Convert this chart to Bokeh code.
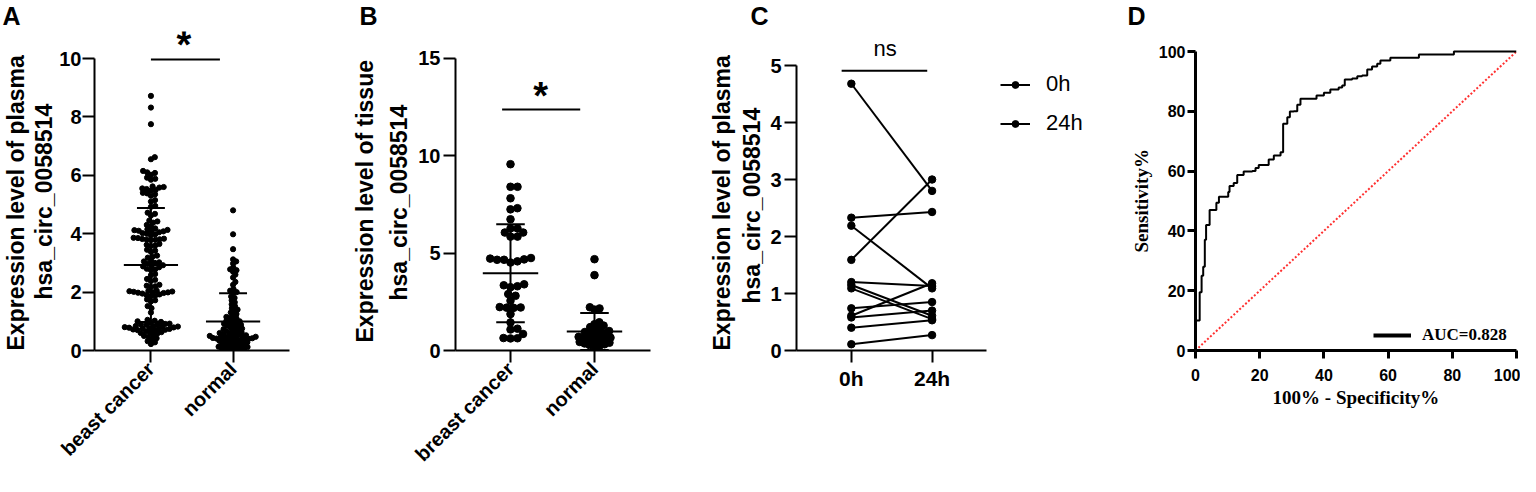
import numpy as np
from bokeh.plotting import figure
from bokeh.models import Range1d, FixedTicker, Legend, LegendItem, Title
from bokeh.layouts import row
from bokeh.embed import file_html
from bokeh.resources import INLINE
from bokeh.core.properties import value

# ---------------- data ----------------
plasma_groups = ["beast cancer", "normal"]
plasma_cancer = [
    8.72, 8.32, 7.75, 6.62, 6.55,
    6.15, 6.08, 6.02, 6.10, 5.88, 5.85, 5.92,
    5.62, 5.58, 5.55, 5.50, 5.48, 5.53, 5.60, 5.40, 5.35, 5.30, 5.38,
    5.15, 5.10, 4.92, 4.95, 4.68, 4.62, 4.72, 4.42, 4.38, 4.45, 4.30, 4.25,
    4.12, 4.10, 4.08, 4.15, 4.10, 4.05, 4.13, 4.18, 4.00, 3.98, 4.02, 3.95,
    3.82, 3.80, 3.85, 3.78, 3.83, 3.79, 3.86, 3.81, 3.62, 3.58, 3.65, 3.60,
    3.42, 3.38, 3.45, 3.22, 3.18, 3.25, 3.02, 3.05, 2.98, 3.00, 3.08,
    2.92, 2.88, 2.85, 2.90, 2.78, 2.75, 2.80, 2.62, 2.58, 2.42, 2.38, 2.45,
    2.22, 2.18, 2.25, 2.20, 2.02, 1.98, 2.00, 2.05, 1.95, 2.03, 1.97, 2.01, 1.99, 2.04,
    1.92, 1.88, 1.90, 1.86, 1.72, 1.68, 1.75, 1.52, 1.45, 1.30,
    1.02, 0.98, 1.00, 1.05, 0.92, 0.88, 0.90, 0.95, 0.91, 0.89,
    0.82, 0.80, 0.78, 0.81, 0.79, 0.83, 0.77, 0.84, 0.76,
    0.72, 0.70, 0.68, 0.73, 0.71, 0.74, 0.66, 0.62, 0.58, 0.60, 0.63,
    0.52, 0.48, 0.50, 0.42, 0.38, 0.32, 0.28, 0.22,
]
plasma_normal = [
    4.80, 3.98, 3.47, 3.12, 3.05, 2.98, 2.85, 2.78, 2.75, 2.70, 2.60, 2.50,
    2.35, 2.25, 2.10, 2.05, 2.00, 1.97, 1.85, 1.80, 1.72, 1.65, 1.58, 1.52,
    1.45, 1.40, 1.35, 1.30, 1.25, 1.20, 1.15, 1.12, 1.10, 1.05, 1.02, 1.00, 0.98, 0.95,
    0.92, 0.90, 0.88, 0.85, 0.83, 0.80, 0.78, 0.75, 0.73, 0.70, 0.68, 0.66,
    0.64, 0.62, 0.60, 0.58, 0.56, 0.55, 0.54,
    0.52, 0.50, 0.49, 0.48, 0.47, 0.46, 0.45, 0.44, 0.43, 0.42, 0.41, 0.40, 0.40, 0.39, 0.38, 0.37,
    0.35, 0.33, 0.31, 0.30, 0.28, 0.27, 0.25, 0.24, 0.22, 0.20,
    0.18, 0.16, 0.15, 0.13, 0.12, 0.10, 0.08, 0.07, 0.05, 0.04, 0.03, 0.02,
]
plasma_mean = [2.93, 0.99]
plasma_sd = [1.95, 0.97]
plasma_ticks = [0, 2, 4, 6, 8, 10]

tissue_groups = ["breast cancer", "normal"]
tissue_cancer = [
    9.57, 8.41, 8.41, 7.82, 7.31, 7.25, 6.74, 6.27, 6.27, 6.06, 6.06, 5.85, 5.85,
    4.68, 4.75, 4.66, 4.52, 4.72, 4.58, 4.66,
    3.40, 3.35, 3.30, 3.25, 2.90, 2.81, 2.56,
    2.23, 2.21, 2.20, 2.19, 1.87, 1.44, 1.12, 1.08, 0.85, 0.64, 0.63, 0.62,
]
tissue_normal = [
    4.69, 3.87, 2.22, 2.16, 2.10, 1.45, 1.35, 1.28, 1.20, 1.12, 1.05, 1.00,
    0.95, 0.90, 0.85, 0.80, 0.75, 0.70, 0.66, 0.62, 0.58, 0.55, 0.52, 0.48,
    0.44, 0.40, 0.36, 0.32, 0.28, 0.24, 0.20,
]
tissue_mean = [3.97, 0.98]
tissue_sd = [2.52, 0.95]
tissue_ticks = [0, 5, 10, 15]

paired_groups = ["0h", "24h"]
paired_0h = [4.68, 2.33, 2.19, 1.59, 1.20, 1.15, 1.09, 0.74, 0.61, 0.58, 0.40, 0.11]
paired_24h = [2.80, 2.43, 1.09, 3.00, 1.13, 0.61, 0.55, 0.85, 1.18, 0.70, 0.53, 0.27]
paired_ticks = [0, 1, 2, 3, 4, 5]

roc_fpr = [0, 0, 1.3, 1.9, 2.4, 2.9, 3.3, 4.4, 6.5, 7.3, 10.2, 10.6, 11.9, 13.0, 15.0,
           17.7, 18.7, 19.7, 22.8, 24.4, 26.5, 27.3, 27.3, 28.6, 29.4, 30.6, 31.7, 32.7,
           37.7, 40.0, 42.0, 44.6, 45.7, 46.5, 48.8, 50.4, 51.9, 53.5, 55.0, 56.6, 57.6,
           60.7, 69.6, 80.5, 100]
roc_tpr = [0, 10, 19.5, 25, 28, 37, 42, 47, 49.4, 51.4, 53, 55, 56, 58.7, 59.9,
           60, 61, 62, 63.9, 65.2, 66.3, 70.2, 75.8, 78, 79.9, 80, 82.2, 84.2,
           85.3, 86.2, 87.3, 88, 88.6, 90.6, 91, 91.7, 92, 94, 95, 95.9, 97,
           97.9, 99, 100, 100]
chance_x = [0, 100]
chance_y = [0, 100]
roc_ticks = [0, 20, 40, 60, 80, 100]
auc_label = "AUC=0.828"

# ---------------- layout / style ----------------
H = 476
TOP, BOTTOM = 31, 126
FRAME_H = H - TOP - BOTTOM
SANS = "Liberation Sans"
SERIF = "Liberation Serif"


def swarm(vals, ppu_y, ppu_x, d):
    vals = np.asarray(vals, float)
    order = np.argsort(vals, kind="stable")
    px_list, py_list = [], []
    out = np.zeros(len(vals))
    for i in order:
        y = vals[i] * ppu_y
        iv = []
        for px, py in zip(px_list, py_list):
            dy = abs(y - py)
            if dy < d:
                h = np.sqrt(d * d - dy * dy)
                iv.append((px - h, px + h))
        cands = [0.0] + [a for a, b in iv] + [b for a, b in iv]
        cands.sort(key=lambda c: (abs(c), -c))
        x = 0.0
        for c in cands:
            if all(not (a + 1e-9 < c < b - 1e-9) for a, b in iv):
                x = c
                break
        px_list.append(x)
        py_list.append(y)
        out[i] = x / ppu_x
    return out


def base_fig(width, left, right, xr, yr, letter, letter_offset):
    p = figure(width=width, height=H, x_range=Range1d(*xr), y_range=Range1d(*yr),
               output_backend="svg", toolbar_location=None,
               min_border_left=left, min_border_right=right,
               min_border_top=TOP, min_border_bottom=BOTTOM)
    p.grid.visible = False
    p.outline_line_color = None
    p.background_fill_color = "white"
    for ax in (p.xaxis[0], p.yaxis[0]):
        ax.axis_line_width = 2
        ax.axis_line_color = "black"
        ax.major_tick_line_width = 2
        ax.major_tick_line_color = "black"
        ax.minor_tick_line_color = None
        ax.major_tick_in = 0
        ax.major_tick_out = 12
        ax.major_label_text_font = SANS
        ax.major_label_text_font_style = "bold"
        ax.major_label_text_color = "black"
        ax.axis_label_text_font = SANS
        ax.axis_label_text_font_style = "bold"
        ax.axis_label_text_color = "black"
    p.yaxis[0].major_label_text_font_size = "20px"
    p.yaxis[0].major_label_standoff = 3
    p.add_layout(Title(text=letter, align="left", offset=letter_offset, standoff=0,
                       vertical_align="top", text_font=SANS, text_font_size="25px",
                       text_font_style="bold", text_color="black"), "above")
    return p


def y_titles(p, lines_inner_first, standoffs, offsets, font=SANS, size="23px"):
    # vertical axis titles, stacked outward from the axis; offset = start above frame bottom
    for text, so, off in zip(lines_inner_first, standoffs, offsets):
        p.add_layout(Title(text=text, align="left", offset=off, standoff=so,
                           text_font=font, text_font_size=size, text_font_style="bold",
                           text_color="black"), "left")


def dot_panel(p, groups, series, means, sds, ticks, ymax, dot, ppu_x, ppu_y,
              star_x, star_y, bar_x0, bar_x1, bar_y, pack):
    ya = p.yaxis[0]
    ya.bounds = (0, ymax)
    ya.ticker = FixedTicker(ticks=ticks)
    xa = p.xaxis[0]
    xa.ticker = FixedTicker(ticks=[0, 1])
    xa.major_label_overrides = {0: groups[0], 1: groups[1]}
    xa.major_label_orientation = np.pi / 4
    xa.major_label_text_font_size = "20px"
    xa.major_label_standoff = 3
    for k, vals in enumerate(series):
        off = swarm(vals, ppu_y, ppu_x, dot * pack[k])
        p.scatter(x=k + off, y=vals, size=dot, color="black", line_color="black")
    cats = np.arange(len(means), dtype=float)
    m = np.asarray(means)
    s = np.asarray(sds)
    mean_hw, cap_hw = 0.33, 0.17
    p.segment(x0=cats - mean_hw, x1=cats + mean_hw, y0=m, y1=m, line_width=2, color="black")
    p.segment(x0=cats, x1=cats, y0=m - s, y1=m + s, line_width=2, color="black")
    p.segment(x0=cats - cap_hw, x1=cats + cap_hw, y0=m + s, y1=m + s, line_width=2, color="black")
    p.segment(x0=cats - cap_hw, x1=cats + cap_hw, y0=m - s, y1=m - s, line_width=2, color="black")
    p.segment(x0=[bar_x0], x1=[bar_x1], y0=[bar_y], y1=[bar_y], line_width=2, color="black")
    p.text(x=[star_x], y=[star_y], text=["*"], text_font=value(SANS), text_font_size="38px",
           text_font_style="bold", text_align="center", text_baseline="alphabetic",
           text_color="black")


# ---------- Panel A ----------
wA, lA, rA = 347, 92, 58
xrA = (-0.687, 1.687)
yrA = (0, FRAME_H / 29.2)
pA = base_fig(wA, lA, rA, xrA, yrA, "A", -92)
pA.yaxis[0].major_label_standoff = 1
ppuxA = (wA - lA - rA) / (xrA[1] - xrA[0])
ppuyA = FRAME_H / (yrA[1] - yrA[0])
dot_panel(pA, plasma_groups, [plasma_cancer, plasma_normal], plasma_mean, plasma_sd,
          plasma_ticks, 10, 5.2, ppuxA, ppuyA, 0.40, 10.45, 0.0, 0.84, 9.97, (0.85, 0.72))
y_titles(pA, ["hsa_circ_0058514", "Expression level of plasma"], [0, 0], [51, 0])

# ---------- Panel B ----------
wB, lB, rB = 359, 108, 56
xrB = (-0.655, 1.667)
yrB = (0, FRAME_H / 19.467)
pB = base_fig(wB, lB, rB, xrB, yrB, "B", -96)
ppuxB = (wB - lB - rB) / (xrB[1] - xrB[0])
ppuyB = FRAME_H / (yrB[1] - yrB[0])
dot_panel(pB, tissue_groups, [tissue_cancer, tissue_normal], tissue_mean, tissue_sd,
          tissue_ticks, 15, 7.6, ppuxB, ppuyB, 0.36, 13.07, -0.1, 0.83, 12.38, (0.92, 0.68))
y_titles(pB, ["hsa_circ_0058514", "Expression level of  tissue"], [8, 4], [50, 8])

# ---------- Panel C ----------
wC, lC, rC = 416, 89, 5
ppuxC = 81.0
xrC = (-0.679, -0.679 + (wC - lC - rC) / ppuxC)
yrC = (0, FRAME_H / 57.0)
pC = base_fig(wC, lC, rC, xrC, yrC, "C", -46)
ya = pC.yaxis[0]
ya.bounds = (0, 5)
ya.ticker = FixedTicker(ticks=paired_ticks)
y_titles(pC, ["hsa_circ_0058514", "Expression level of plasma"], [5, 0], [47, 0])
xa = pC.xaxis[0]
xa.bounds = (-0.679, 1.679)
xa.ticker = FixedTicker(ticks=[0, 1])
xa.major_label_overrides = {0: paired_groups[0], 1: paired_groups[1]}
xa.major_label_text_font_size = "21px"
xa.major_label_standoff = 4
n = len(paired_0h)
seg = pC.segment(x0=[0] * n, x1=[1] * n, y0=paired_0h, y1=paired_24h, line_width=2, color="black")
s0 = pC.scatter(x=[0] * n, y=paired_0h, size=7.5, color="black")
s24 = pC.scatter(x=[1] * n, y=paired_24h, size=7.5, color="black")
pC.segment(x0=[-0.12], x1=[0.94], y0=[4.91], y1=[4.91], line_width=2, color="black")
pC.text(x=[0.42], y=[5.30], text=["ns"], text_font=value(SANS), text_font_size="22px",
        text_align="center", text_baseline="alphabetic", text_color="black")
legC = Legend(items=[LegendItem(label=paired_groups[0], renderers=[seg, s0]),
                     LegendItem(label=paired_groups[1], renderers=[seg, s24])],
              location=(204, 214), padding=0, margin=0, spacing=13,
              glyph_width=30, glyph_height=17, label_height=25, label_standoff=16,
              label_text_font=SANS, label_text_font_size="22px", label_text_color="black",
              background_fill_alpha=0, border_line_color=None)
pC.add_layout(legC)

# ---------- Panel D ----------
wD, lD, rD = 398, 73, 4
xrD = (0, 100)
yrD = (0, FRAME_H / 2.99)
pD = base_fig(wD, lD, rD, xrD, yrD, "D", -68)
for ax in (pD.xaxis[0], pD.yaxis[0]):
    ax.axis_line_width = 3
    ax.major_tick_line_width = 3
    ax.major_tick_out = 8
    ax.ticker = FixedTicker(ticks=roc_ticks)
    ax.major_label_text_font_size = "16px"
    ax.axis_label_text_font = SERIF
    ax.axis_label_text_font_size = "19px"
pD.yaxis[0].bounds = (0, 100)
pD.yaxis[0].major_label_standoff = 2
y_titles(pD, ["Sensitivity%"], [7], [98], font=SERIF, size="19px")
pD.xaxis[0].major_label_standoff = 10
pD.xaxis[0].axis_label = "100% - Specificity%"
pD.xaxis[0].axis_label_standoff = 3
pD.line(chance_x, chance_y, line_color="#ff3030", line_width=2, line_dash="2 2")
roc = pD.step(roc_fpr, roc_tpr, mode="after", line_color="black", line_width=2)
leg_line = pD.line(x=[np.nan], y=[np.nan], line_color="black", line_width=4)
legD = Legend(items=[LegendItem(label=auc_label, renderers=[leg_line])],
              location=(178, 5), padding=0, margin=0,
              glyph_width=38, glyph_height=20, label_height=20, label_standoff=11,
              label_text_font=SERIF, label_text_font_size="17px", label_text_font_style="bold",
              label_text_color="black", background_fill_alpha=0, border_line_color=None)
pD.add_layout(legD)

layout = row(pA, pB, pC, pD)
open("out.html", "w").write(file_html(layout, INLINE))
